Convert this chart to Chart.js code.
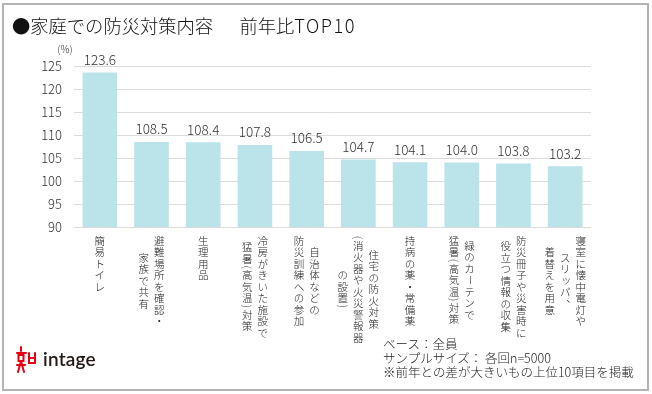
<!DOCTYPE html>
<html lang="ja">
<head>
<meta charset="utf-8">
<script src="https://cdn.jsdelivr.net/npm/chart.js@4/dist/chart.umd.min.js"></script>
<style>
  html, body { margin: 0; padding: 0; background: #fff; }
  #wrap { position: relative; width: 652px; height: 394px; overflow: hidden; font-family: "Noto Sans CJK JP", "Noto Sans", sans-serif; }
  #wrap canvas { position: absolute; left: 0; top: 0; }
  #frame { position: absolute; left: 2px; top: 3px; width: 643px; height: 384px; border: 2px solid #b4b4b4; pointer-events: none; }
  #title { position: absolute; left: 12px; top: 12px; font-size: 18.3px; line-height: 26px; color: #111; font-weight: 300; white-space: pre; }
  #title span { margin-left: 8px; }
  #title b { font-weight: 300; letter-spacing: 1.5px; }
  #note { position: absolute; left: 383px; top: 337px; font-size: 12.5px; line-height: 14px; color: #222; font-weight: 300; white-space: pre; }
  #logo { position: absolute; left: 16px; top: 345px; height: 30px; }
  #logo span { position: absolute; left: 27px; top: 2px; font-family: "Lato", "Noto Sans", sans-serif; font-size: 19px; font-weight: 600; color: #231815; letter-spacing: 0.2px; }
</style>
</head>
<body>
<div id="wrap">
  <canvas id="chart" width="652" height="394"></canvas>
  <div id="frame"></div>
  <div id="title">●家庭での防災対策内容　<span>前年比<b>TOP10</b></span></div>
  <div id="note">ベース：全員
サンプルサイズ： 各回n=5000
※前年との差が大きいもの上位10項目を掲載</div>
  <div id="logo">
    <svg width="26" height="30" viewBox="0 0 26 30">
      <g stroke="#e60012" stroke-width="2" fill="none" stroke-linecap="round">
        <line x1="5" y1="2" x2="5" y2="6"/>
        <line x1="1" y1="8" x2="10" y2="8"/>
        <rect x="2.5" y="10" width="5" height="6"/>
        <line x1="5" y1="16" x2="2" y2="27"/>
        <line x1="5" y1="16" x2="8" y2="27"/>
        <line x1="1" y1="20" x2="9" y2="20"/>
        <path d="M13 8 V18 H19 V8"/>
        <line x1="13" y1="13" x2="19" y2="13"/>
      </g>
    </svg>
    <span>intage</span>
  </div>
</div>
<script>
// 項目（縦書きの行ごと）
const categoryLines = [
  ["簡易トイレ"],
  ["避難場所を確認・", "家族で共有"],
  ["生理用品"],
  ["冷房がきいた施設で", "猛暑(高気温)対策"],
  ["自治体などの", "防災訓練への参加"],
  ["住宅の防火対策", "(消火器や火災警報器", "の設置)"],
  ["持病の薬・常備薬"],
  ["緑のカーテンで", "猛暑(高気温)対策"],
  ["防災冊子や災害時に", "役立つ情報の収集"],
  ["寝室に懐中電灯や", "スリッパ、", "着替えを用意"],
];
const categories = categoryLines.map((l) => l.join(""));

// 前年比（%）
const ratioValues = [123.6, 108.5, 108.4, 107.8, 106.5, 104.7, 104.1, 104.0, 103.8, 103.2];

// 目盛り
const yMin = 90;
const yMax = 125;
const yStep = 5;

const FONT = '"Noto Sans CJK JP", "Noto Sans", sans-serif';

// 縦書きラベル
const rotatedChars = "()（）ーｰ－～";
const smallKana = "ッャュョァィゥェォっゃゅょ";
const verticalLabels = {
  id: "verticalLabels",
  afterDraw(chart) {
    const ctx = chart.ctx;
    const xs = chart.scales.x;
    const size = 10.5;
    const pitch = 11.5;
    const colGap = 15.5;
    const top = chart.chartArea.bottom + 8;
    ctx.save();
    ctx.font = "300 " + size + "px " + FONT;
    ctx.fillStyle = "#222";
    ctx.textAlign = "center";
    ctx.textBaseline = "middle";

    const adv = (ch) => ("()（）".includes(ch) ? ctx.measureText(ch).width + 1.5 : pitch);

    categoryLines.forEach((lines, i) => {
      const cx = xs.getPixelForTick(i);
      const lens = lines.map((line) => [...line].reduce((s, ch) => s + adv(ch), 0));
      const maxLen = Math.max(...lens);
      lines.forEach((line, j) => {
        const x = cx + ((lines.length - 1) / 2 - j) * colGap;
        let y = top + (maxLen - lens[j]) / 2;
        for (const ch of line) {
          const a = adv(ch);
          const cy = y + a / 2;
          if (rotatedChars.includes(ch)) {
            ctx.save();
            ctx.translate(x, cy);
            ctx.rotate(Math.PI / 2);
            ctx.fillText(ch, 0, 0);
            ctx.restore();
          } else if (ch === "、" || ch === "。") {
            ctx.fillText(ch, x + size * 0.6, cy - size * 0.6);
          } else if (smallKana.includes(ch)) {
            ctx.fillText(ch, x + size * 0.1, cy - size * 0.1);
          } else {
            ctx.fillText(ch, x, cy);
          }
          y += a;
        }
      });
    });
    ctx.restore();
  },
};

// 棒の上の数値と単位
const valueLabels = {
  id: "valueLabels",
  afterDatasetsDraw(chart) {
    const ctx = chart.ctx;
    const meta = chart.getDatasetMeta(0);
    ctx.save();
    ctx.font = "300 13.5px " + FONT;
    ctx.fillStyle = "#333";
    ctx.textAlign = "center";
    ctx.textBaseline = "bottom";
    meta.data.forEach((bar, i) => {
      ctx.fillText(ratioValues[i].toFixed(1), bar.x, bar.y - 6);
    });
    ctx.font = "300 10px " + FONT;
    ctx.fillText("(%)", chart.chartArea.left - 9, chart.chartArea.top - 12);
    ctx.restore();
  },
};

const ctx = document.getElementById("chart").getContext("2d");
const ratioChart = new Chart(ctx, {
  type: "bar",
  data: {
    labels: categories,
    datasets: [
      {
        label: "前年比",
        data: ratioValues,
        backgroundColor: "#bbe3ea",
        borderWidth: 0,
        categoryPercentage: 0.67,
        barPercentage: 1,
      },
    ],
  },
  options: {
    responsive: false,
    animation: false,
    events: [],
    layout: { padding: { left: 0, top: 66, right: 61, bottom: 167 } },
    scales: {
      x: {
        grid: { display: false },
        border: { display: false },
        ticks: { display: false },
        afterFit: (s) => { s.height = 0; },
      },
      y: {
        min: yMin,
        max: yMax,
        ticks: {
          stepSize: yStep,
          padding: 12,
          color: "#333",
          font: { family: FONT, size: 13, weight: "300" },
        },
        grid: { color: "#dcdcdc", lineWidth: 1, drawTicks: false },
        border: { display: false },
        afterFit: (s) => { s.width = 74; },
      },
    },
    plugins: {
      legend: { display: false },
      tooltip: { enabled: false },
    },
  },
  plugins: [valueLabels, verticalLabels],
});
</script>
</body>
</html>
